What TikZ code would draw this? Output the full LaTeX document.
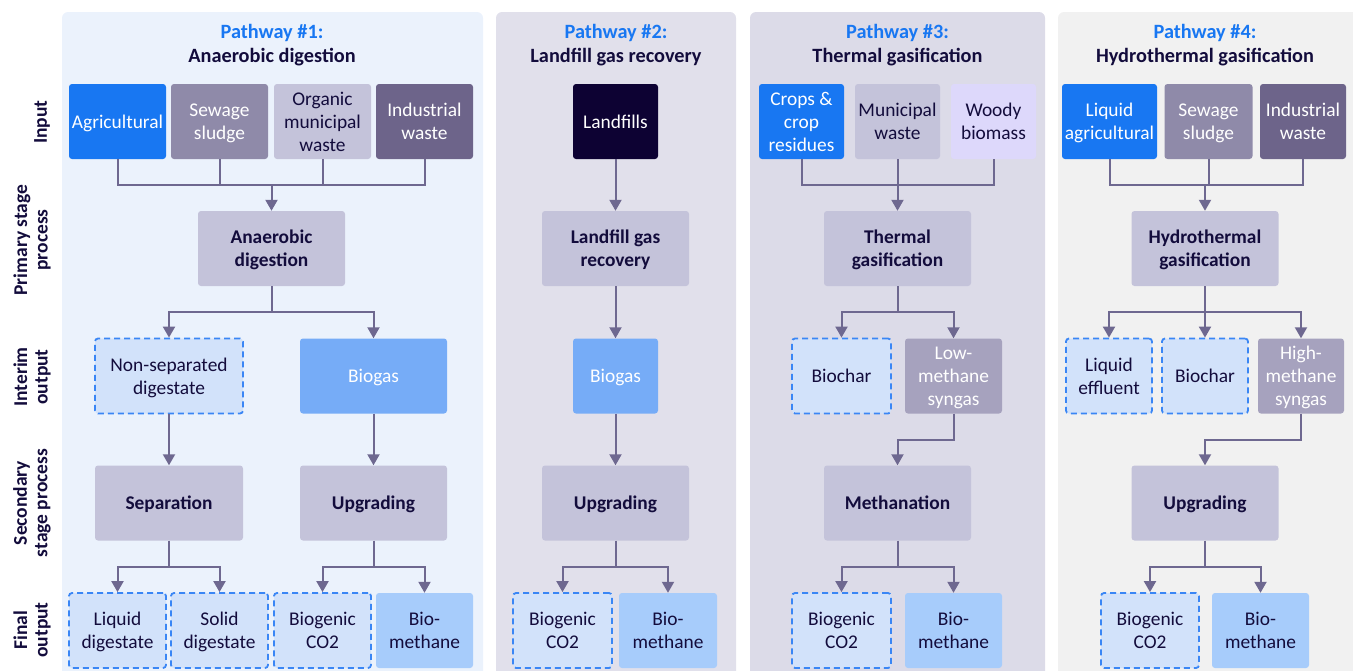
\documentclass[tikz,border=0pt]{standalone}
\usepackage{fontspec}
\setmainfont{Carlito}
\usetikzlibrary{arrows.meta}

\definecolor{panA}{HTML}{EBF2FC}
\definecolor{panB}{HTML}{E1E0EB}
\definecolor{panC}{HTML}{DCDBE8}
\definecolor{panD}{HTML}{F1F1F1}
\definecolor{agblue}{HTML}{1877F2}
\definecolor{sewage}{HTML}{8F8AA9}
\definecolor{procfill}{HTML}{C4C3DA}
\definecolor{indus}{HTML}{6D648A}
\definecolor{woody}{HTML}{DDD8FB}
\definecolor{landf}{HTML}{0D0233}
\definecolor{dashfill}{HTML}{D2E2FA}
\definecolor{dashline}{HTML}{3A86F5}
\definecolor{biogas}{HTML}{76ACF7}
\definecolor{biometh}{HTML}{A7CCFB}
\definecolor{syngas}{HTML}{A6A2BE}
\definecolor{linkcol}{HTML}{6E6890}
\definecolor{ink}{HTML}{130C3C}

\tikzset{
  box/.style={rectangle, rounded corners=3pt, inner sep=0pt, align=center,
    minimum height=75pt, text depth=0pt, text=ink,
    font=\fontsize{19.4}{23}\selectfont},
  lightbox/.style={box, text=white},
  procbox/.style={box, fill=procfill, minimum width=147pt,
    font=\fontsize{19.4}{23}\selectfont\bfseries},
  dashbox/.style={box, fill=dashfill, draw=dashline, line width=1.8pt,
    dash pattern=on 6pt off 4pt},
  title/.style={align=center, text=ink, font=\fontsize{20.3}{24}\selectfont\bfseries},
  rowlabel/.style={align=center, rotate=90, text=ink,
    font=\fontsize{19.5}{20.5}\selectfont\bfseries},
  link/.style={draw=linkcol, line width=2pt},
  arr/.style={link, -{Triangle[width=12pt,length=11pt]}}
}

\begin{document}
\begin{tikzpicture}[x=1pt,y=-1pt]
\useasboundingbox (0,0) rectangle (1353,670);

% panels behind each pathway
\fill[panA, rounded corners=6pt] (62,12) rectangle (483,700);
\fill[panB, rounded corners=6pt] (496,12) rectangle (736,700);
\fill[panC, rounded corners=6pt] (750,12) rectangle (1045,700);
\fill[panD, rounded corners=6pt] (1058,12) rectangle (1360,700);

% row labels
\node[rowlabel] (lin) at (42,122) {Input};
\node[rowlabel] (lpr) at (32,240) {Primary stage\\process};
\node[rowlabel] (lio) at (32,377) {Interim\\output};
\node[rowlabel] (lse) at (32,503) {Secondary\\stage process};
\node[rowlabel] (lfi) at (32,630) {Final\\output};

% titles
\node[title] (t1) at (272,45) {\textcolor{agblue}{Pathway \#1:}\\Anaerobic digestion};
\node[title] (t2) at (616,45) {\textcolor{agblue}{Pathway \#2:}\\Landfill gas recovery};
\node[title] (t3) at (897.5,45) {\textcolor{agblue}{Pathway \#3:}\\Thermal gasification};
\node[title] (t4) at (1205,45) {\textcolor{agblue}{Pathway \#4:}\\Hydrothermal gasification};

% ---- pathway 1
\node[lightbox, fill=agblue, minimum width=97pt] (ag1) at (117.5,121.5) {Agricultural};
\node[lightbox, fill=sewage, minimum width=97pt] (ss1) at (219.5,121.5) {Sewage\\sludge};
\node[box, fill=procfill, minimum width=97pt] (om1) at (322.5,121.5) {Organic\\municipal\\waste};
\node[lightbox, fill=indus, minimum width=97pt] (iw1) at (424.5,121.5) {Industrial\\waste};
\node[procbox] (ad1) at (271.5,248.5) {Anaerobic\\digestion};
\node[dashbox, minimum width=148pt] (nsd1) at (169,376) {Non-separated\\digestate};
\node[lightbox, fill=biogas, minimum width=147pt] (bg1) at (373.5,376) {Biogas};
\node[procbox, minimum width=148pt] (sep1) at (169,503) {Separation};
\node[procbox] (up1) at (373.5,503) {Upgrading};
\node[dashbox, minimum width=97pt] (ld1) at (117.5,630.5) {Liquid\\digestate};
\node[dashbox, minimum width=97pt] (sd1) at (219.5,630.5) {Solid\\digestate};
\node[dashbox, minimum width=97pt] (co1) at (322.5,630.5) {Biogenic\\CO2};
\node[box, fill=biometh, minimum width=97pt] (bm1) at (424.5,630.5) {Bio-\\methane};

\coordinate (j1) at (271.5,185);
\coordinate (k1) at (271.5,312);
\coordinate (m1) at (169,567);
\coordinate (n1) at (373.5,567);
\draw[link] (ag1.south) |- (iw1.south |- j1) -- (iw1.south);
\draw[link] (ss1.south) -- (ss1.south |- j1);
\draw[link] (om1.south) -- (om1.south |- j1);
\draw[arr] (j1) -- (ad1.north);
\draw[arr] (ad1.south) -- (k1) -| (nsd1.north);
\draw[arr] (k1) -| (bg1.north);
\draw[arr] (nsd1.south) -- (sep1.north);
\draw[arr] (bg1.south) -- (up1.north);
\draw[arr] (sep1.south) -- (m1) -| (ld1.north);
\draw[arr] (m1) -| (sd1.north);
\draw[arr] (up1.south) -- (n1) -| (co1.north);
\draw[arr] (n1) -| (bm1.north);

% ---- pathway 2
\node[lightbox, fill=landf, minimum width=85pt] (lf2) at (615.5,121.5) {Landfills};
\node[procbox] (lgr2) at (615.5,248.5) {Landfill gas\\recovery};
\node[lightbox, fill=biogas, minimum width=85pt] (bg2) at (615.5,376) {Biogas};
\node[procbox] (up2) at (615.5,503) {Upgrading};
\node[dashbox, minimum width=99pt] (co2) at (562.5,630.5) {Biogenic\\CO2};
\node[box, fill=biometh, minimum width=98pt] (bm2) at (668,630.5) {Bio-\\methane};

\coordinate (n2) at (615.5,567);
\draw[arr] (lf2) -- (lgr2);
\draw[arr] (lgr2) -- (bg2);
\draw[arr] (bg2) -- (up2);
\draw[arr] (up2.south) -- (n2) -| (co2.north);
\draw[arr] (n2) -| (bm2.north);

% ---- pathway 3
\node[lightbox, fill=agblue, minimum width=85pt] (cr3) at (801.5,121.5) {Crops \&\\crop\\residues};
\node[box, fill=procfill, minimum width=85pt] (mw3) at (897.5,121.5) {Municipal\\waste};
\node[box, fill=woody, minimum width=85pt] (wb3) at (993.5,121.5) {Woody\\biomass};
\node[procbox] (tg3) at (897.5,248.5) {Thermal\\gasification};
\node[dashbox, minimum width=99pt] (bc3) at (841.5,376) {Biochar};
\node[lightbox, fill=syngas, minimum width=97pt] (ls3) at (953.5,376) {Low-\\methane\\syngas};
\node[procbox] (me3) at (897.5,503) {Methanation};
\node[dashbox, minimum width=99pt] (co3) at (841.5,630.5) {Biogenic\\CO2};
\node[box, fill=biometh, minimum width=97pt] (bm3) at (953.5,630.5) {Bio-\\methane};

\coordinate (j3) at (897.5,185);
\coordinate (k3) at (897.5,312);
\coordinate (e3) at (953.5,440);
\coordinate (n3) at (897.5,567);
\draw[link] (cr3.south) |- (wb3.south |- j3) -- (wb3.south);
\draw[arr] (mw3.south) -- (tg3.north);
\draw[arr] (tg3.south) -- (k3) -| (bc3.north);
\draw[arr] (k3) -| (ls3.north);
\draw[arr] (ls3.south) -- (e3) -| (me3.north);
\draw[arr] (me3.south) -- (n3) -| (co3.north);
\draw[arr] (n3) -| (bm3.north);

% ---- pathway 4
\node[lightbox, fill=agblue, minimum width=95pt] (la4) at (1109.5,121.5) {Liquid\\agricultural};
\node[lightbox, fill=sewage, minimum width=88pt] (ss4) at (1208.5,121.5) {Sewage\\sludge};
\node[lightbox, fill=indus, minimum width=86pt] (iw4) at (1303,121.5) {Industrial\\waste};
\node[procbox] (hg4) at (1205,248.5) {Hydrothermal\\gasification};
\node[dashbox, minimum width=86pt] (le4) at (1109,376) {Liquid\\effluent};
\node[dashbox, minimum width=86pt] (bc4) at (1205,376) {Biochar};
\node[lightbox, fill=syngas, minimum width=86pt] (hs4) at (1301,376) {High-\\methane\\syngas};
\node[procbox] (up4) at (1205,503) {Upgrading};
\node[dashbox, minimum width=98pt] (co4) at (1150,630.5) {Biogenic\\CO2};
\node[box, fill=biometh, minimum width=97pt] (bm4) at (1260.5,630.5) {Bio-\\methane};

\coordinate (j4) at (1205,185);
\coordinate (k4) at (1205,312);
\coordinate (e4) at (1301,440);
\coordinate (n4) at (1205,567);
\draw[link] (la4.south) |- (iw4.south |- j4) -- (iw4.south);
\draw[link] (ss4.south) -- (ss4.south |- j4);
\draw[arr] (j4) -- (hg4.north);
\draw[arr] (hg4.south) -- (k4) -| (le4.north);
\draw[arr] (k4) -- (bc4.north);
\draw[arr] (k4) -| (hs4.north);
\draw[arr] (hs4.south) -- (e4) -| (up4.north);
\draw[arr] (up4.south) -- (n4) -| (co4.north);
\draw[arr] (n4) -| (bm4.north);
\end{tikzpicture}
\end{document}
